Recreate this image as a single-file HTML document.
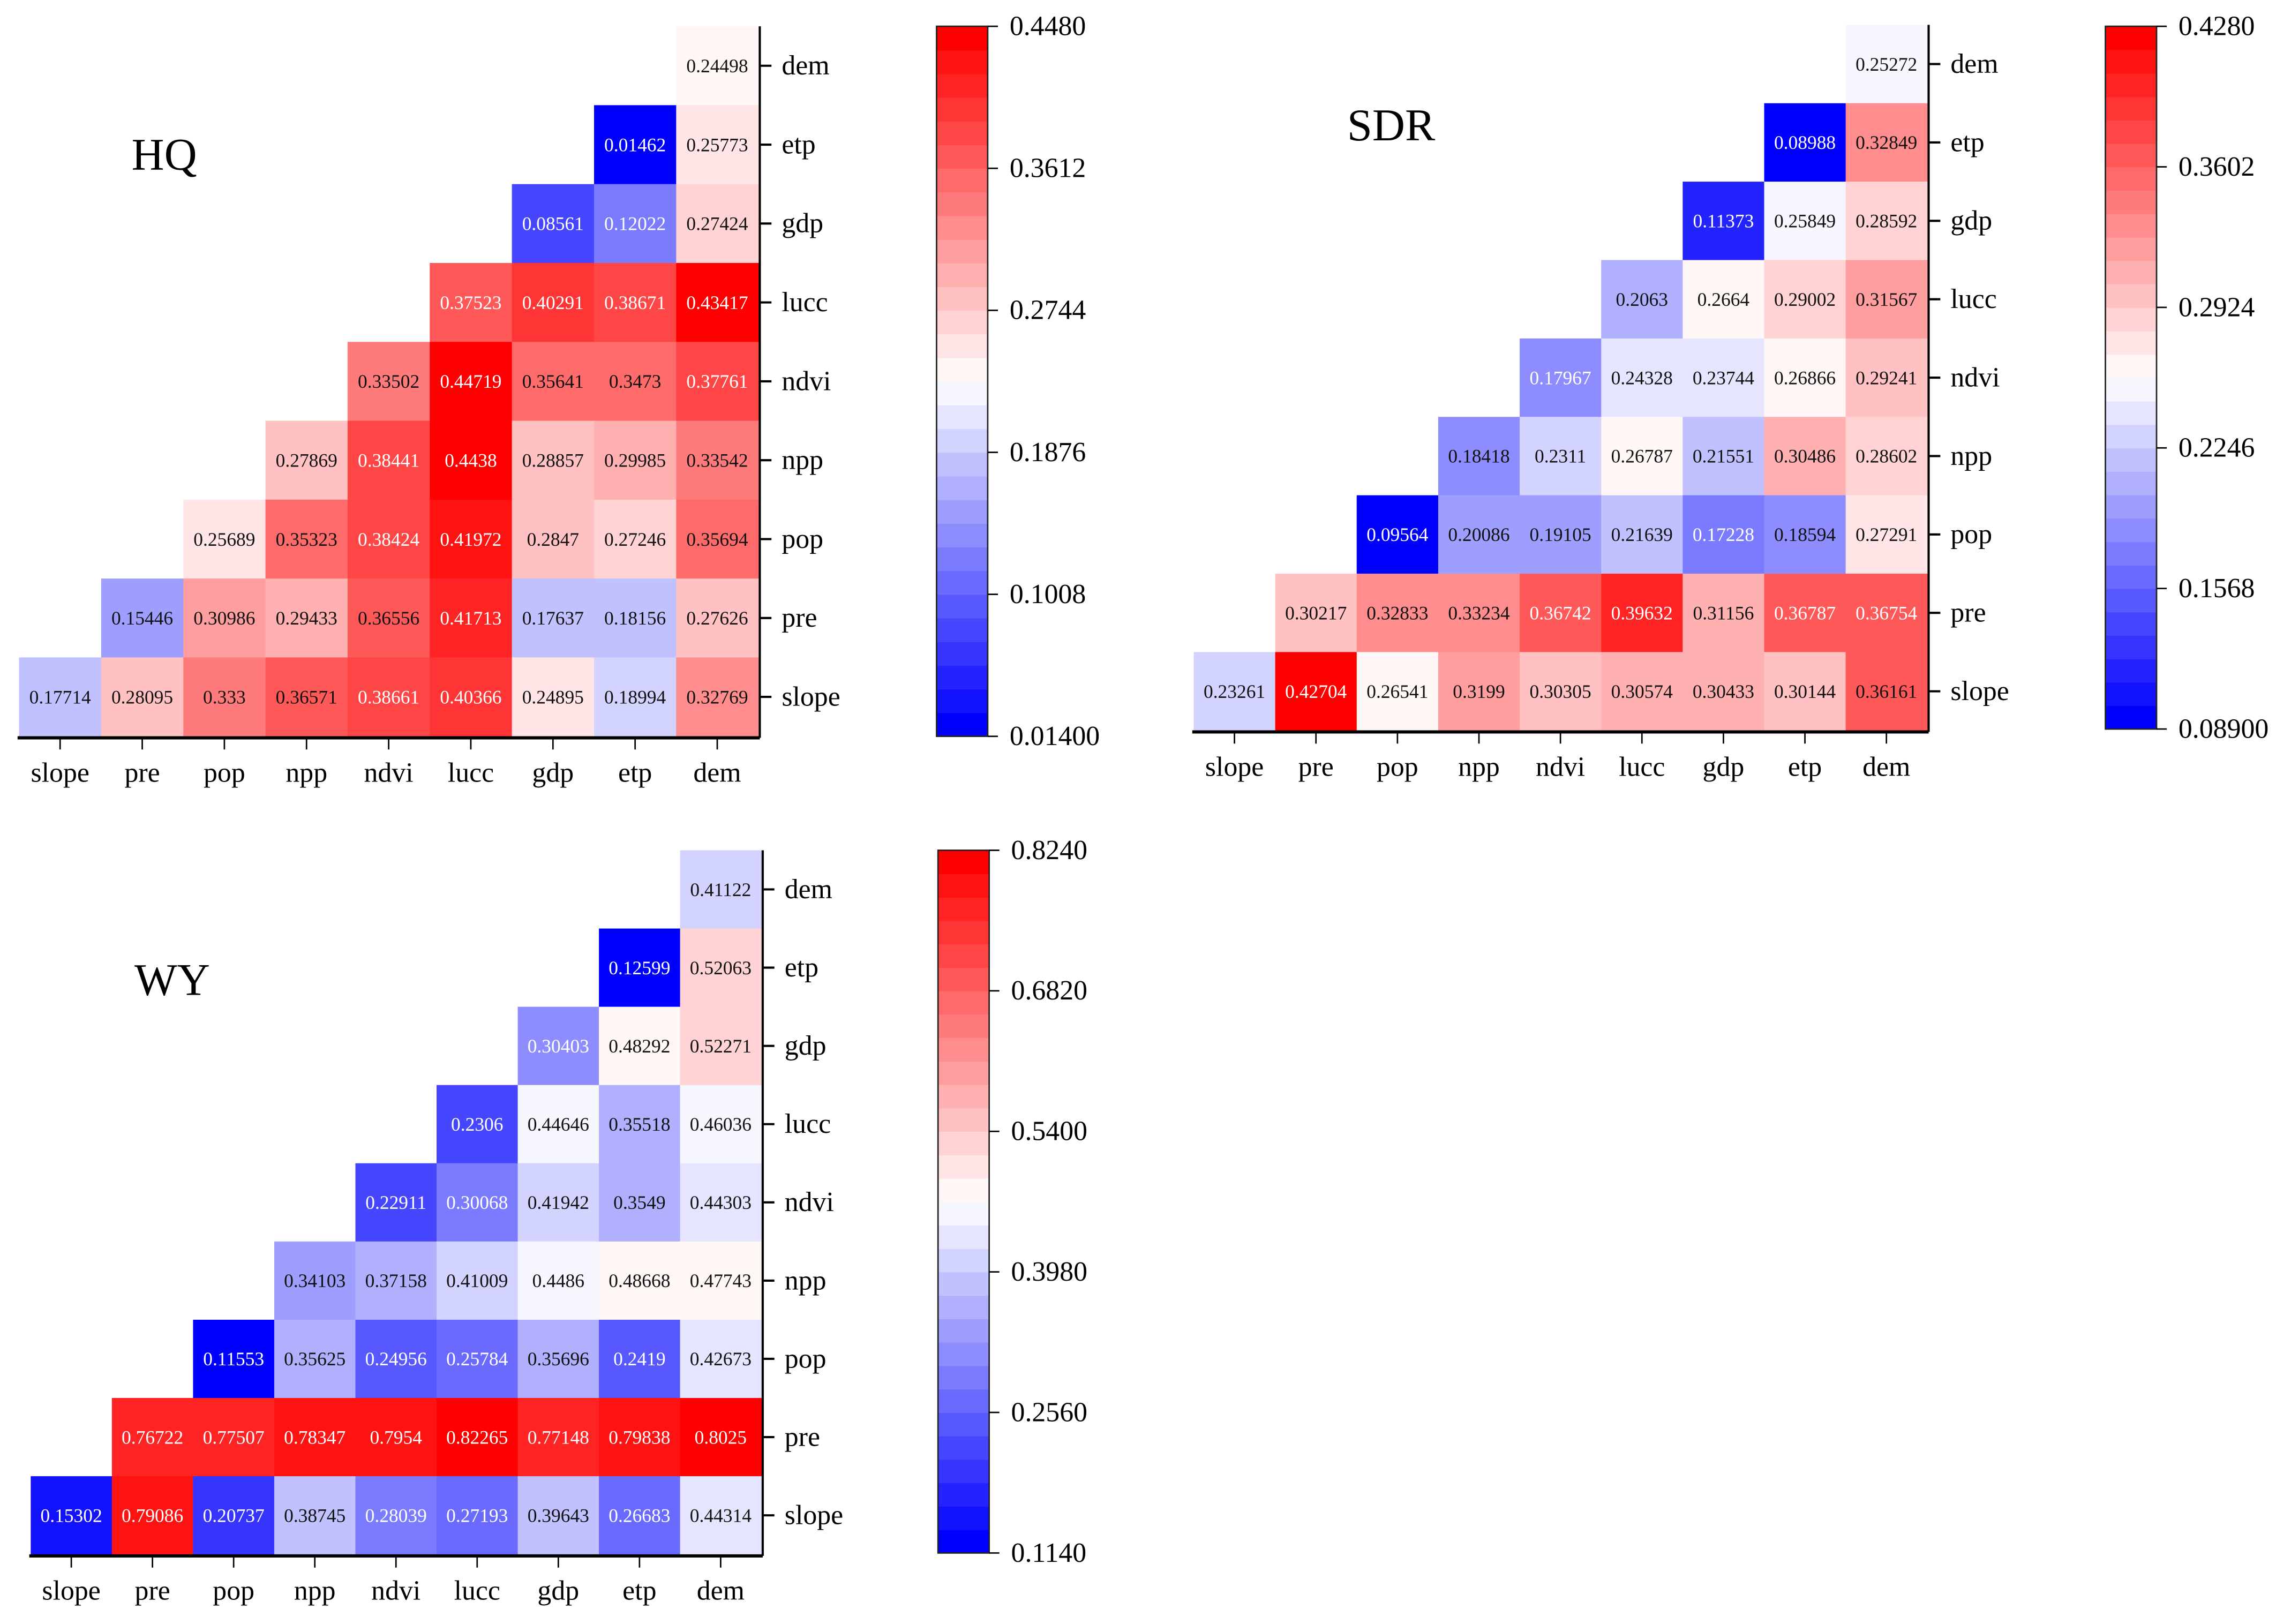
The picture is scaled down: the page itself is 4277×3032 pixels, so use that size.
<!DOCTYPE html>
<html><head><meta charset="utf-8"><style>
html,body{margin:0;padding:0;background:#fff;}
svg{display:block;}
text{font-family:"Liberation Serif",serif;}
</style></head><body>
<svg id="fig" width="4277" height="3032" viewBox="0 0 1568 1111.6" xmlns="http://www.w3.org/2000/svg"></svg>
<script>
const rowLabels = ["dem","etp","gdp","lucc","ndvi","npp","pop","pre","slope"];
const colLabels = ["slope","pre","pop","npp","ndvi","lucc","gdp","etp","dem"];
const hqValues = [
 [0.24498],
 [0.01462,0.25773],
 [0.08561,0.12022,0.27424],
 [0.37523,0.40291,0.38671,0.43417],
 [0.33502,0.44719,0.35641,0.3473,0.37761],
 [0.27869,0.38441,0.4438,0.28857,0.29985,0.33542],
 [0.25689,0.35323,0.38424,0.41972,0.2847,0.27246,0.35694],
 [0.15446,0.30986,0.29433,0.36556,0.41713,0.17637,0.18156,0.27626],
 [0.17714,0.28095,0.333,0.36571,0.38661,0.40366,0.24895,0.18994,0.32769]];
const sdrValues = [
 [0.25272],
 [0.08988,0.32849],
 [0.11373,0.25849,0.28592],
 [0.2063,0.2664,0.29002,0.31567],
 [0.17967,0.24328,0.23744,0.26866,0.29241],
 [0.18418,0.2311,0.26787,0.21551,0.30486,0.28602],
 [0.09564,0.20086,0.19105,0.21639,0.17228,0.18594,0.27291],
 [0.30217,0.32833,0.33234,0.36742,0.39632,0.31156,0.36787,0.36754],
 [0.23261,0.42704,0.26541,0.3199,0.30305,0.30574,0.30433,0.30144,0.36161]];
const wyValues = [
 [0.41122],
 [0.12599,0.52063],
 [0.30403,0.48292,0.52271],
 [0.2306,0.44646,0.35518,0.46036],
 [0.22911,0.30068,0.41942,0.3549,0.44303],
 [0.34103,0.37158,0.41009,0.4486,0.48668,0.47743],
 [0.11553,0.35625,0.24956,0.25784,0.35696,0.2419,0.42673],
 [0.76722,0.77507,0.78347,0.7954,0.82265,0.77148,0.79838,0.8025],
 [0.15302,0.79086,0.20737,0.38745,0.28039,0.27193,0.39643,0.26683,0.44314]];
const hqTicks = ["0.01400","0.1008","0.1876","0.2744","0.3612","0.4480"];
const sdrTicks = ["0.08900","0.1568","0.2246","0.2924","0.3602","0.4280"];
const wyTicks = ["0.1140","0.2560","0.3980","0.5400","0.6820","0.8240"];
const hqRange = [0.014,0.448], sdrRange = [0.089,0.428], wyRange = [0.114,0.824];

const NS = "http://www.w3.org/2000/svg";
const svg = document.getElementById('fig');
function mk(tag, attrs, parent){const e=document.createElementNS(NS,tag);for(const k in attrs)e.setAttribute(k,attrs[k]);(parent||svg).appendChild(e);return e;}
const NB=30;
function bandColor(k){const s=k/(NB-1);let r,g,b;
 if(s<0.5){r=g=Math.round(255*s/0.5);b=255;}else{r=255;g=b=Math.round(255*(1-s)/0.5);}
 return `rgb(${r},${g},${b})`;}
function band(v,range){let t=(v-range[0])/(range[1]-range[0]);let k=Math.floor(t*NB);return Math.max(0,Math.min(NB-1,k));}

function panel(name,title,vals,ticks,range,L){
 const g=mk('g',{});
 
 
 const cw=(L.x1-L.x0)/9, rh=(L.y1-L.y0)/9;
 const xs=i=>L.x0+i*cw, ys=j=>L.y0+j*rh;
 vals.forEach((row,j)=>{row.forEach((v,i)=>{
   const col=9-row.length+i;
   const k=band(v,range);
   const r=mk('rect',{x:xs(col),y:ys(j),width:cw+0.4,height:rh+0.4,fill:bandColor(k)},g);
   
   
   const t=(v-range[0])/(range[1]-range[0]);
   const tc=(t<0.27||t>0.82)?'#fff':'#111';
   const tx=mk('text',{x:xs(col)+cw/2,y:ys(j)+rh/2+4.5,'font-size':13,'text-anchor':'middle',fill:tc},g);
   tx.textContent=String(v);
   
   
 });});
 // axes
 const ax=mk('line',{x1:L.x0-1,y1:L.y1+1,x2:L.x1+1,y2:L.y1+1,stroke:'#000','stroke-width':2.2},g);
 
 const ay=mk('line',{x1:L.x1+1,y1:L.y0,x2:L.x1+1,y2:L.y1+1,stroke:'#000','stroke-width':1.5},g);
 
 colLabels.forEach((c,i)=>{const cx=xs(i)+cw/2;
  mk('line',{x1:cx,y1:L.y1+1,x2:cx,y2:L.y1+9,stroke:'#000','stroke-width':1},g);
  const t=mk('text',{x:cx,y:L.y1+31,'font-size':19,'text-anchor':'middle',fill:'#000'},g);
  t.textContent=c;});
 rowLabels.forEach((c,j)=>{const cy=ys(j)+rh/2;
  mk('line',{x1:L.x1+1,y1:cy,x2:L.x1+9,y2:cy,stroke:'#000','stroke-width':1.5},g);
  const t=mk('text',{x:L.x1+16,y:cy+6,'font-size':19,fill:'#000'},g);
  t.textContent=c;});
 const tt=mk('text',{x:L.tx,y:L.ty,'font-size':31,fill:'#000'},g);
 tt.textContent=title;
 // colorbar
 const cb=mk('g',{},g);
 const bh=(L.cb1-L.cb0)/NB;
 for(let k=0;k<NB;k++){mk('rect',{x:L.cbx,y:L.cb1-(k+1)*bh,width:35,height:bh+0.3,fill:bandColor(k)},cb);}
 mk('rect',{x:L.cbx,y:L.cb0,width:35,height:L.cb1-L.cb0,fill:'none',stroke:'#222','stroke-width':1},cb);
 ticks.forEach((tk,i)=>{const y=L.cb1-i*(L.cb1-L.cb0)/5;
  mk('line',{x1:L.cbx+35,y1:y,x2:L.cbx+42,y2:y,stroke:'#000','stroke-width':1},cb);
  const t=mk('text',{x:L.cbx+50,y:y+6,'font-size':19,fill:'#000'},cb);
  t.textContent=tk;});
}
panel('hq','HQ',hqValues,hqTicks,hqRange,{x0:13,x1:519,y0:18,y1:504,tx:90,ty:116,cbx:641,cb0:18,cb1:504});
panel('sdr','SDR',sdrValues,sdrTicks,sdrRange,{x0:817,x1:1319,y0:17,y1:500,tx:922,ty:96,cbx:1441,cb0:18,cb1:499});
panel('wy','WY',wyValues,wyTicks,wyRange,{x0:21,x1:521,y0:582,y1:1064,tx:92,ty:681,cbx:642,cb0:582,cb1:1063});
</script>
</body></html>
